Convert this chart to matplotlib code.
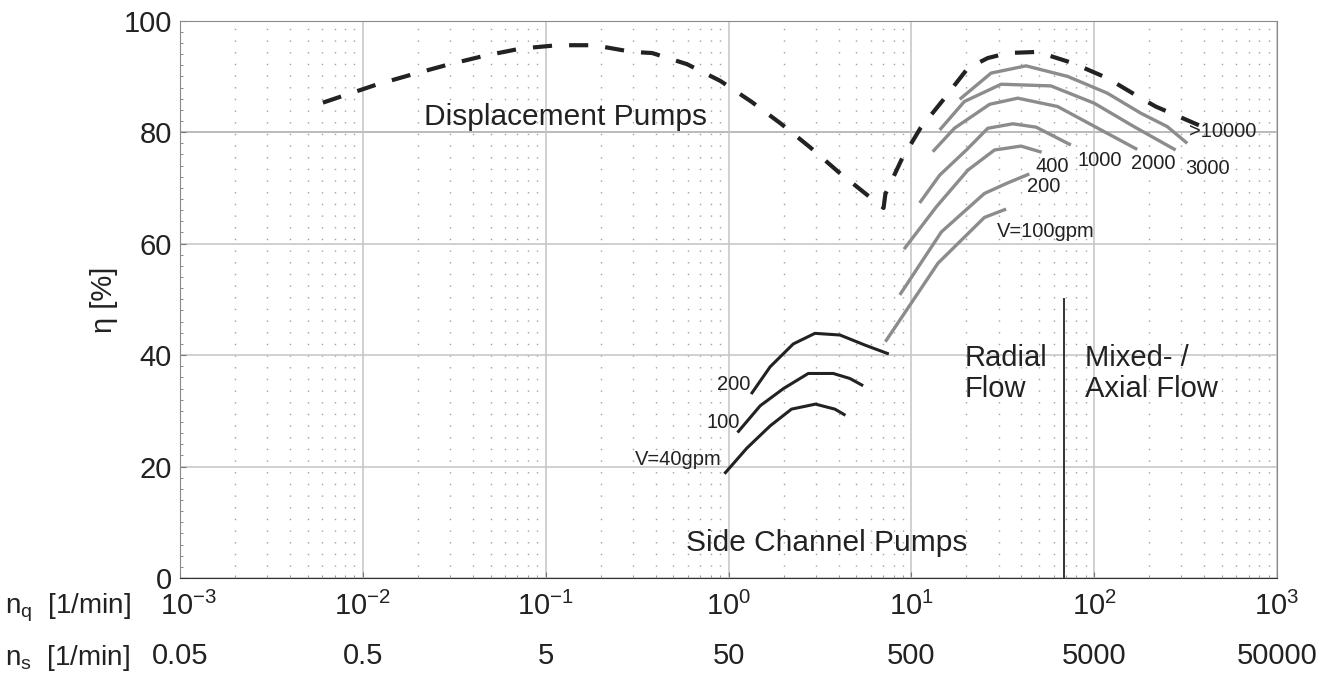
import matplotlib.pyplot as plt
from matplotlib.ticker import FixedLocator, MultipleLocator, NullFormatter
from matplotlib.transforms import blended_transform_factory, ScaledTranslation

plt.rcParams['font.family'] = ['Liberation Sans', 'DejaVu Sans']
plt.rcParams['mathtext.fontset'] = 'custom'
plt.rcParams['mathtext.rm'] = 'Liberation Sans'
plt.rcParams['mathtext.it'] = 'Liberation Sans:italic'

# displacement pumps (dashed envelope)
disp_nq = [0.00605, 0.0118, 0.0188, 0.0291, 0.0462, 0.0731, 0.116, 0.184, 0.297, 0.382,
           0.593, 0.902, 1.33, 1.94, 2.79, 3.98, 5.75, 7.05, 7.21, 8.82, 11.2, 15.2,
           17.3, 20.4, 26.2, 33.7, 49.1, 76.2, 118, 180, 217, 443]
disp_eta = [85.3, 88.5, 90.4, 92.1, 93.7, 95.0, 95.6, 95.6, 94.4, 94.2,
            92.2, 89.2, 85.5, 81.5, 77.3, 72.9, 68.7, 66.4, 68.9, 75.0, 80.7, 86.1,
            88.5, 91.5, 93.3, 94.2, 94.4, 92.4, 89.7, 86.1, 84.6, 80.2]

# radial flow pumps, one curve per flow rate
rad_names = ['V=100gpm', '200', '400', '1000', '2000', '3000', '>10000']
rad_nq = [
    [7.21, 14.0, 25.1, 33.0],
    [8.65, 14.6, 25.1, 33.7, 44.2],
    [9.12, 13.7, 20.4, 28.5, 39.8, 51.6],
    [11.1, 14.3, 20.0, 26.2, 35.9, 48.1, 74.6],
    [13.1, 17.2, 26.8, 38.2, 63.1, 109, 172],
    [14.3, 19.5, 31.0, 58.0, 100, 165, 279],
    [18.4, 27.3, 42.4, 71.6, 118, 180, 251, 323],
]
rad_eta = [
    [42.4, 56.5, 64.7, 66.2],
    [50.8, 62.1, 69.0, 70.9, 72.5],
    [59.0, 66.6, 73.2, 76.8, 77.5, 76.4],
    [67.3, 72.3, 76.8, 80.7, 81.5, 80.9, 77.7],
    [76.5, 80.7, 85.0, 86.1, 84.6, 80.4, 76.9],
    [80.4, 85.5, 88.6, 88.3, 85.2, 81.0, 76.8],
    [85.9, 90.6, 91.9, 90.0, 87.0, 83.4, 81.0, 78.0],
]
rad_lab_xy = [(29.3, 62.1), (42.8, 70.3), (47.9, 73.9), (81.1, 75.0),
              (160, 74.3), (315, 73.5), (331, 80.2)]

# side channel pumps
sc_names = ['V=40gpm', '100', '200']
sc_nq = [
    [0.95, 1.26, 1.69, 2.21, 2.99, 3.82, 4.36],
    [1.12, 1.49, 2.0, 2.73, 3.74, 4.61, 5.45],
    [1.33, 1.69, 2.26, 2.97, 4.07, 5.57, 7.53],
]
sc_eta = [
    [18.7, 23.3, 27.3, 30.3, 31.2, 30.3, 29.2],
    [26.1, 30.9, 34.0, 36.7, 36.7, 35.8, 34.5],
    [33.0, 37.9, 42.0, 43.9, 43.6, 41.8, 40.2],
]
sc_lab_xy = [(0.916, 21.2), (1.16, 27.9), (1.32, 34.7)]

nq_ticks = [1e-3, 1e-2, 1e-1, 1e0, 1e1, 1e2, 1e3]
nq_labels = ['$\\mathregular{10^{-3}}$', '$\\mathregular{10^{-2}}$', '$\\mathregular{10^{-1}}$',
             '$\\mathregular{10^{0}}$', '$\\mathregular{10^{1}}$', '$\\mathregular{10^{2}}$',
             '$\\mathregular{10^{3}}$']
ns_labels = ['0.05', '0.5', '5', '50', '500', '5000', '50000']

fig = plt.figure(figsize=(13.25, 6.8), dpi=100)
ax = fig.add_axes([180 / 1325, 1 - 578 / 680, 1097 / 1325, 557.3 / 680])
ax.set_xscale('log')
ax.set_xlim(1e-3, 1e3)
ax.set_ylim(0, 100)

# grid
minor_x = [m * 10.0 ** e for e in range(-3, 3) for m in range(2, 10)]
ax.xaxis.set_minor_locator(FixedLocator(minor_x))
ax.xaxis.set_minor_formatter(NullFormatter())
ax.yaxis.set_minor_locator(MultipleLocator(2))
ax.set_xticks(nq_ticks)
ax.set_xticklabels(nq_labels)
ax.set_yticks([0, 20, 40, 60, 80, 100])
ax.grid(which='major', color='#c4c4c4', lw=1.1)
ax.grid(which='minor', axis='x', color='#a0a0a0', lw=1.0, linestyle=(0, (1, 7.4)))
ax.axhline(80, color='#8a8a8a', lw=1.1, zorder=1)
ax.tick_params(which='both', direction='in', color='#777')
ax.tick_params(which='major', length=4)
ax.tick_params(which='minor', length=2.5)
ax.tick_params(axis='y', labelsize=21, pad=6, labelcolor='#222')
ax.tick_params(axis='x', labelsize=21, pad=10, labelcolor='#222')
for s in ['top', 'right', 'left']:
    ax.spines[s].set_color('#8a8a8a')
ax.spines['bottom'].set_color('#333')
ax.set_ylabel('η [%]', fontsize=21, color='#222', labelpad=4)

# nudge the first n_q label right so it clears the "0" of the y axis
first = ax.get_xticklabels()[0]
first.set_transform(first.get_transform() + ScaledTranslation(6 / 72, 0, fig.dpi_scale_trans))

# curves
ax.plot(disp_nq, disp_eta, color='#222', lw=3.0, linestyle=(0, (4.6, 4.1)))
for xs, ys, name, (lx, ly) in zip(rad_nq, rad_eta, rad_names, rad_lab_xy):
    ax.plot(xs, ys, color='#8c8c8c', lw=2.4, solid_capstyle='butt')
    ax.text(lx, ly, name, fontsize=14.5, color='#222', ha='left', va='center')
for xs, ys, name, (lx, ly) in zip(sc_nq, sc_eta, sc_names, sc_lab_xy):
    ax.plot(xs, ys, color='#222', lw=2.2, solid_capstyle='butt')
    ax.text(lx, ly, name, fontsize=14.5, color='#222', ha='right', va='center')

# border between radial and mixed/axial flow
ax.plot([68.7, 68.7], [0, 50], color='#333', lw=1.4)

ax.text(0.0217, 82.7, 'Displacement Pumps', fontsize=21.5, color='#222', va='center')
ax.text(0.585, 6.3, 'Side Channel Pumps', fontsize=21.5, color='#222', va='center')
ax.text(19.6, 36.7, 'Radial\nFlow', fontsize=21, color='#222', va='center', linespacing=1.1)
ax.text(88.9, 36.7, 'Mixed- /\nAxial Flow', fontsize=21, color='#222', va='center', linespacing=1.1)

# second axis row: specific speed n_s
tr = blended_transform_factory(ax.transData, ax.transAxes)
for x, lab in zip(nq_ticks, ns_labels):
    ax.text(x, -0.14, lab, transform=tr, fontsize=21, color='#222', ha='center', va='center')

fig.text(5 / 1325, 1 - 608 / 680, 'n$_\\mathregular{q}$  [1/min]', fontsize=20, color='#222', va='center')
fig.text(5 / 1325, 1 - 658 / 680, 'n$_\\mathregular{s}$  [1/min]', fontsize=20, color='#222', va='center')

fig.savefig('out.png', dpi=100)
